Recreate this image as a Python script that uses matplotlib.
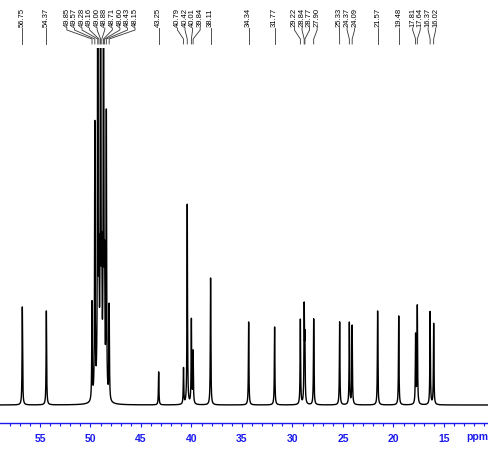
# 13C NMR spectrum with peak picking labels
import numpy as np
import matplotlib.pyplot as plt
from matplotlib.ticker import MultipleLocator

# Peak list (ppm, height in px above baseline)
peak_ppm = [56.75, 54.37, 49.85, 49.57, 49.28, 49.16, 49.00, 48.88, 48.71, 48.60,
            48.43, 48.15, 43.25, 40.79, 40.42, 40.01, 39.84, 38.11, 34.34, 31.77,
            29.22, 28.84, 28.77, 27.90, 25.33, 24.37, 24.09, 21.57, 19.48, 17.81,
            17.64, 16.37, 16.02]
peak_height = [98, 94, 98, 274, 560, 110, 650, 110, 560, 110,
               282, 95, 33, 36, 200, 84, 52, 127, 83, 78,
               85, 93, 60, 86, 83, 82, 79, 94, 89, 69,
               98, 93, 81]
tick_vals = [55, 50, 45, 40, 35, 30, 25, 20, 15]

W, H = 488, 461
x_left, x_right = 58.96, 10.64
blue = '#1a1aee'

fig = plt.figure(figsize=(W / 100, H / 100), dpi=100)

# spectrum axes (clipped at pixel 48 from top)
ax = fig.add_axes([0, (H - 423) / H, 1, (423 - 48) / H])
ppm = np.linspace(x_left, x_right, 30000)
gamma = 0.03
spec = np.zeros_like(ppm)
for p, h in zip(peak_ppm, peak_height):
    spec += h * gamma**2 / ((ppm - p)**2 + gamma**2)
ax.plot(ppm, spec, color='black', lw=1.0)
ax.set_xlim(x_left, x_right)
ax.set_ylim(-18, 423 - 48 - 18)
for s in ['top', 'left', 'right']:
    ax.spines[s].set_visible(False)
ax.spines['bottom'].set_color(blue)
ax.spines['bottom'].set_linewidth(1.0)
ax.set_yticks([])
ax.set_xticks(tick_vals)
ax.xaxis.set_minor_locator(MultipleLocator(1))
ax.tick_params(axis='x', which='major', colors=blue, length=3, width=0.8, pad=5,
               labelsize=7.5)
ax.tick_params(axis='x', which='minor', colors=blue, length=2, width=0.8)
for t in ax.get_xticklabels():
    t.set_fontfamily('Liberation Sans')
    t.set_fontweight('bold')
fig.text(477 / W, 1 - 437 / H, 'ppm', color=blue, fontsize=7.5, fontweight='bold',
         family='Liberation Sans', ha='center', va='center')

# label overlay axes (pixels from top)
lax = fig.add_axes([0, 1 - 48 / H, 1, 48 / H])
lax.set_xlim(x_left, x_right)
lax.set_ylim(48, 0)
lax.axis('off')

# spread labels so they don't overlap
gap = 0.75
order = sorted(range(len(peak_ppm)), key=lambda i: -peak_ppm[i])
groups = [[i] for i in order]
changed = True
while changed:
    changed = False
    pos = []
    for g in groups:
        c = np.mean([peak_ppm[i] for i in g])
        pos.append(c + (len(g) - 1) / 2 * gap)
    for k in range(len(groups) - 1):
        end_k = pos[k] - (len(groups[k]) - 1) * gap
        if end_k - pos[k + 1] < gap:
            groups[k] = groups[k] + groups[k + 1]
            del groups[k + 1]
            changed = True
            break

for g in groups:
    c = np.mean([peak_ppm[i] for i in g])
    start = c + (len(g) - 1) / 2 * gap
    for j, i in enumerate(g):
        lx = start - j * gap
        px = peak_ppm[i]
        lax.text(lx, 27, '%.2f' % px, rotation=90, ha='center', va='bottom',
                 fontsize=5.5, family='Liberation Sans', color='black')
        lax.plot([lx, lx, px, px], [28, 30, 39, 44], color='#333333', lw=0.6)

fig.savefig('out.png', dpi=100)
